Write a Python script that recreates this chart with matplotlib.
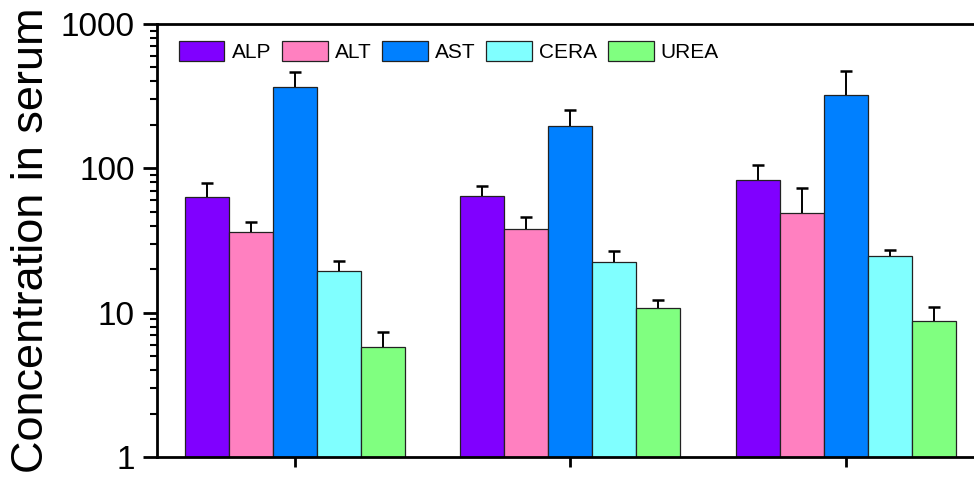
import numpy as np
import matplotlib
matplotlib.use("Agg")
import matplotlib.pyplot as plt
from matplotlib.ticker import LogLocator, NullFormatter, FixedLocator

plt.rcParams['font.family'] = ['Liberation Sans', 'DejaVu Sans']

groups = [1, 2, 3]
analytes = ["ALP", "ALT", "AST", "CERA", "UREA"]
colors = ["#8000FF", "#FF80C0", "#0080FF", "#80FFFF", "#80FF80"]

alp = [63.7, 64.4, 82.7]
alt = [36.1, 37.8, 49.1]
ast = [365.0, 198.0, 323.0]
cera = [19.5, 22.6, 24.8]
urea = [5.81, 10.7, 8.8]

alp_hi = [78.9, 75.5, 105.0]
alt_hi = [42.5, 46.0, 73.1]
ast_hi = [468.0, 254.0, 470.0]
cera_hi = [22.9, 26.6, 27.3]
urea_hi = [7.31, 12.3, 11.0]

means = [alp, alt, ast, cera, urea]
uppers = [alp_hi, alt_hi, ast_hi, cera_hi, urea_hi]

fig = plt.figure(figsize=(9.74, 4.82), dpi=100)
ax = fig.add_axes([157 / 974, 25 / 482, 826.5 / 974, 433 / 482])

width = 0.16
x = np.array(groups, dtype=float)
for i, (name, col, m, hi) in enumerate(zip(analytes, colors, means, uppers)):
    pos = x + (i - 2) * width
    m = np.array(m)
    err = np.array(hi) - m
    ax.bar(pos, m, width=width, color=col, edgecolor="#222222",
           linewidth=0.9, label=name, zorder=2)
    eb = ax.errorbar(pos, m, yerr=[np.zeros_like(err), err], fmt="none",
                     ecolor="black", elinewidth=1.4, capsize=4, capthick=1.8,
                     zorder=3)
    # upper-only error bars: hide the cap sitting on the bar top
    eb[1][0].set_visible(False)

ax.set_yscale("log")
ax.set_ylim(1, 1000)
ax.set_xlim(0.5, 3.5)
ax.yaxis.set_major_locator(FixedLocator([1, 10, 100, 1000]))
ax.set_yticklabels(["1", "10", "100", "1000"])
ax.yaxis.set_minor_locator(LogLocator(base=10, subs=np.arange(2, 10)))
ax.yaxis.set_minor_formatter(NullFormatter())
ax.set_xticks(groups)
ax.set_xticklabels([])

for s in ["left", "bottom", "top"]:
    ax.spines[s].set_linewidth(2.0)
ax.spines["right"].set_visible(False)

ax.tick_params(axis="y", which="major", direction="out", length=10, width=2,
               labelsize=24, pad=6)
ax.tick_params(axis="y", which="minor", direction="out", length=5, width=1.5)
ax.tick_params(axis="x", which="major", direction="out", length=7, width=2)
ax.tick_params(axis="x", which="minor", bottom=False)

ax.set_ylabel("Concentration in serum", fontsize=32.5, labelpad=6)

ax.legend(loc="upper left", bbox_to_anchor=(0.006, 1.0), ncol=5, frameon=False,
          fontsize=15, handlelength=2.2, handleheight=1.1, handletextpad=0.35,
          columnspacing=0.5, borderaxespad=0.5, borderpad=0.3)

fig.savefig("out.png", dpi=100)
